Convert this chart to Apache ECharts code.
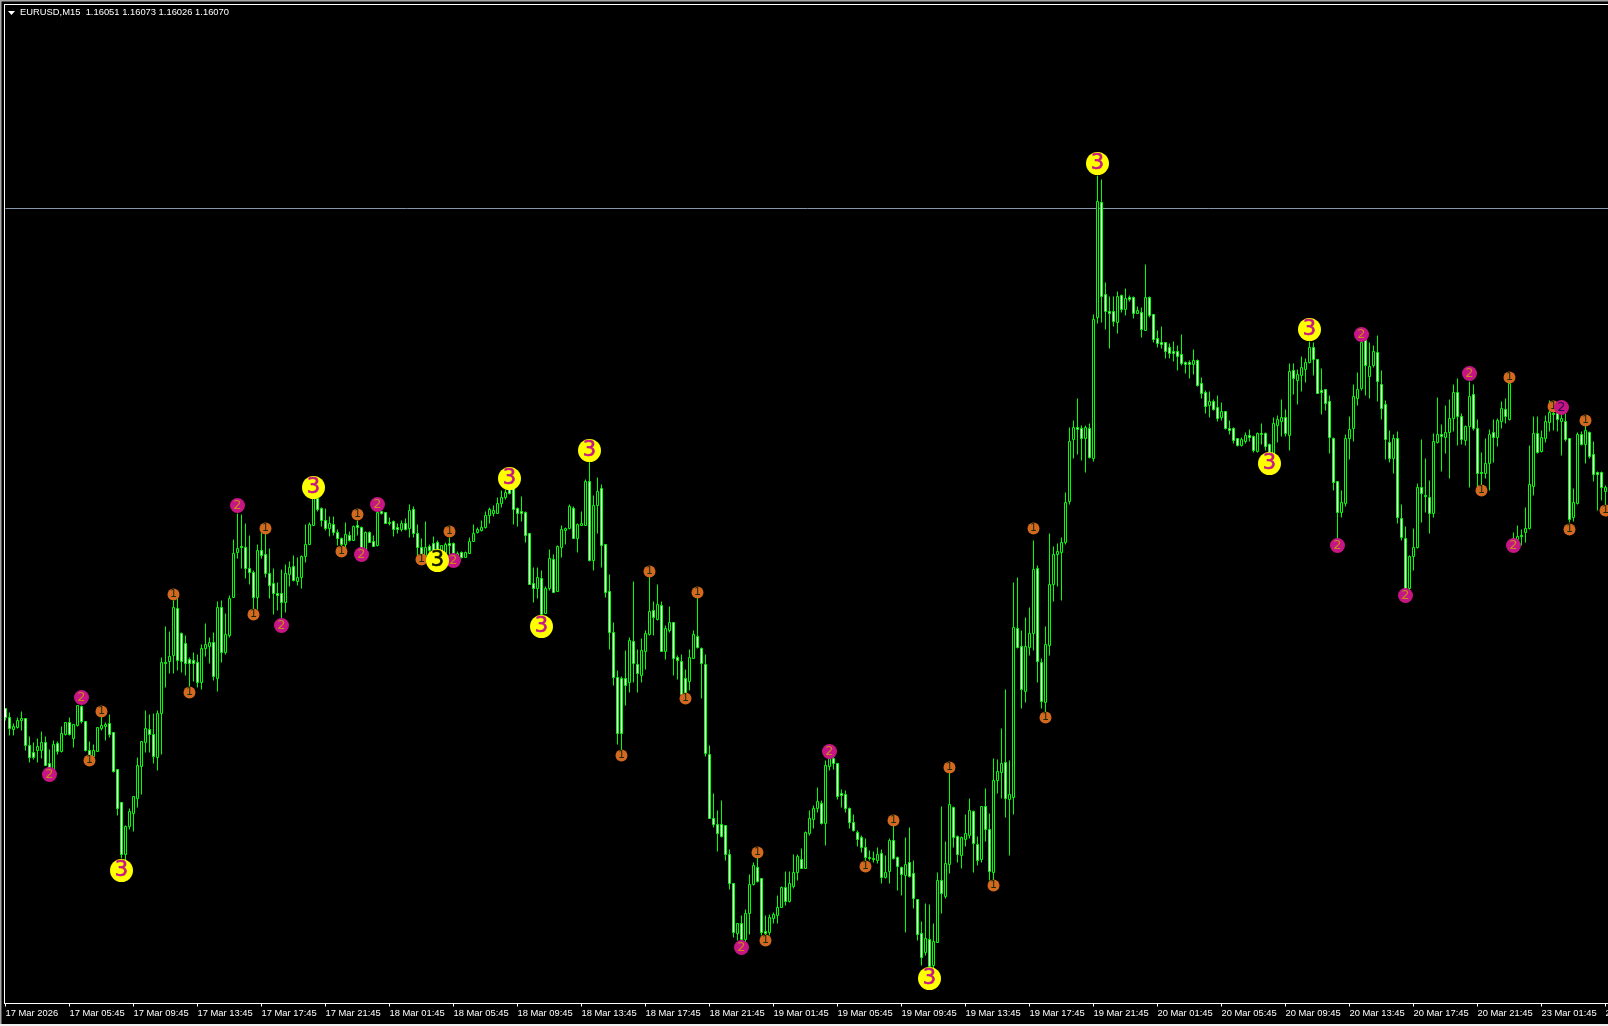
<!DOCTYPE html>
<html>
<head>
<meta charset="utf-8">
<style>html,body{margin:0;padding:0;background:#000;}#c{width:1608px;height:1026px;}</style>
<script src="https://cdn.jsdelivr.net/npm/echarts@6/dist/echarts.min.js"></script>
</head>
<body>
<div id="c"></div>
<script>
// All prices are in points above 1.15000 (1.16070 => 1070). Rows: [open, close, low, high]
const bars17Mar = [
[570,561,558,570],[561,550,543,566],[549,552,543,555],[551,558,550,561],[558,560,548,567],[560,533,528,560],[533,521,516,542],[526,521,519,536],
[528,532,516,540],[528,536,520,547],[536,513,513,542],[515,511,503,529],[506,534,506,538],[535,527,524,537],[527,545,526,552],[544,556,543,556],
[556,544,543,561],[540,554,531,554],[553,573,552,573],[572,557,555,573],[557,528,527,557],[528,523,520,537],[522,528,520,534],[527,551,527,551],
[550,553,548,562],[552,554,538,556],[555,544,541,564],[546,507,506,546],[509,470,463,509],[476,424,420,476],[424,452,418,453],[452,467,449,470],
[465,482,447,482],[480,513,471,521],[512,537,484,537],[536,550,526,568],[549,544,526,564],[544,522,515,565],[521,565,508,568],[565,616,524,621],
[616,615,591,652],[617,622,605,647],[623,671,605,678],[670,618,608,680],[645,617,606,646],[635,615,603,643],[619,615,592,621],[618,615,597,626],
[616,596,591,624],[596,630,589,634],[630,634,622,655],[632,636,615,641],[636,602,598,646],[600,671,587,677],[671,626,616,678],[626,644,624,665],
[643,680,641,683],[681,725,681,739],[726,730,720,765],[732,731,710,764],[731,710,700,755],[710,706,694,743],[706,681,668,708],[681,728,669,734],
[728,723,720,746],[724,705,701,746],[705,693,680,730],[695,685,664,710],[685,683,668,696],[685,676,660,709],[676,705,666,714],[704,711,692,717],
[712,698,697,723],[697,701,693,721],[701,722,690,723],[722,734,716,754],[734,754,734,756],[753,780,753,788],[780,769,767,783],[770,758,752,771],
[758,750,748,770],[750,755,742,762],[754,746,743,762],[746,740,733,749],[740,734,730,741],[734,744,731,756],[743,738,737,747],[738,752,738,753],
[753,751,743,758],[751,731,728,752],[729,746,726,747],[746,736,736,747],[737,732,732,743],[733,766,732,768],[767,765,764,768],[766,755,755,766]];
const bars18Mar = [
[756,755,753,761],[757,749,742,758],[751,749,745,755],[749,755,747,758],[755,749,748,760],[750,768,741,774],[769,745,741,772],[745,731,723,754],
[731,723,718,740],[723,731,722,757],[732,728,726,734],[735,728,720,742],[736,728,718,738],[723,733,718,733],[725,734,722,736],[735,733,723,741],
[735,725,718,736],[721,725,720,727],[726,721,720,727],[721,726,721,727],[725,737,725,741],[737,745,737,754],[746,749,745,751],[748,751,747,758],
[751,763,750,767],[763,769,755,771],[765,768,762,773],[765,775,765,781],[775,781,771,788],[781,786,779,789],[789,785,784,790],[790,769,754,791],
[770,765,752,771],[767,765,757,782],[766,743,736,767],[745,694,694,745],[695,690,676,711],[690,701,680,711],[700,664,664,708],[665,690,665,692],
[690,720,688,729],[719,686,686,724],[687,732,687,733],[731,749,721,753],[748,750,734,751],[750,772,749,774],[770,740,740,772],[740,754,726,755],
[753,755,753,767],[753,797,753,799],[797,718,717,818],[718,773,708,783],[773,787,745,801],[790,733,711,794],[734,686,681,734],[687,646,629,704],
[646,601,593,656],[601,545,534,608],[600,545,523,602],[600,593,573,628],[596,638,586,641],[637,615,596,697],[614,605,586,629],[603,628,596,640],
[627,645,609,648],[644,667,643,707],[668,661,643,677],[659,674,658,694],[673,627,627,677],[627,650,619,653],[648,656,646,672],[656,620,603,656],
[621,618,599,623],[617,584,583,624],[600,584,580,609],[597,621,588,629],[620,644,620,648],[642,631,630,681],[630,615,580,631],[614,525,522,624],
[524,460,460,533],[460,454,451,485],[454,445,427,468],[454,442,441,478],[453,424,418,453],[424,395,389,429],[395,346,341,395],[345,355,338,355],
[355,339,333,363],[339,365,336,369],[365,394,344,404],[394,413,393,416],[411,397,396,424],[400,346,343,400],[347,345,341,363],[346,361,343,364]];
const bars19Mar = [
[360,364,355,366],[363,371,355,383],[371,391,371,392],[391,377,373,407],[377,395,376,407],[392,406,390,424],[406,422,398,424],[419,410,410,430],
[410,446,410,447],[445,460,443,468],[459,470,450,473],[470,477,466,491],[475,455,454,478],[455,513,433,518],[512,520,508,523],[520,515,509,523],
[515,482,479,515],[485,483,471,489],[484,470,466,488],[470,456,450,471],[456,448,447,464],[446,439,432,448],[441,431,426,443],[431,421,413,440],
[421,420,418,428],[420,419,416,427],[418,424,415,431],[425,401,395,429],[401,406,400,423],[407,438,395,440],[438,420,419,459],[421,412,388,422],
[411,404,383,412],[403,414,346,441],[416,402,401,451],[405,380,370,418],[379,344,338,379],[345,321,313,357],[326,340,323,375],[339,312,310,374],
[313,337,310,355],[336,398,336,406],[398,385,365,472],[382,415,380,437],[414,474,405,506],[471,441,431,472],[442,424,416,443],[423,441,410,442],
[439,445,432,464],[443,468,440,480],[467,435,406,468],[434,418,413,442],[419,472,416,472],[472,449,437,490],[449,407,398,465],[406,498,398,520],
[498,507,485,519],[506,515,480,550],[516,480,461,589],[479,484,423,518],[481,651,464,696],[650,631,630,701],[632,589,570,648],[587,632,576,661],
[631,645,623,671],[645,709,628,738],[710,617,596,713],[616,577,570,620],[576,634,566,652],[633,694,623,745],[694,724,677,732],[724,727,692,735],
[726,736,678,741],[736,776,734,786],[777,837,774,851],[839,851,820,858],[851,849,824,880],[850,840,818,853],[840,851,806,853],[850,821,820,855],
[820,959,817,964],[961,1077,955,1103],[1076,982,956,1099],[984,967,949,996],[967,965,930,982],[967,957,952,982],[956,982,945,987],[983,969,966,984],
[969,980,963,990],[981,979,977,983],[981,965,960,982],[965,968,965,972],[966,949,941,971],[948,981,948,1014],[981,963,961,982],[964,939,936,964]];
const bars20Mar = [
[940,935,931,948],[936,934,930,952],[936,927,920,936],[931,925,920,935],[927,925,917,937],[927,922,908,933],[924,915,913,944],[916,914,905,917],
[916,914,900,918],[914,918,904,929],[918,893,892,919],[895,885,880,901],[886,872,865,888],[873,877,861,887],[877,869,868,879],[871,860,857,883],
[861,867,858,876],[867,850,849,867],[850,848,844,858],[850,838,835,851],[840,833,832,840],[833,839,832,841],[837,843,835,846],[843,841,837,849],
[842,828,826,843],[827,845,826,846],[845,844,834,855],[845,832,828,846],[834,825,815,835],[825,855,825,861],[853,859,836,863],[857,861,842,879],
[861,845,842,869],[843,907,828,915],[908,900,884,915],[898,904,874,909],[903,911,887,922],[909,916,896,920],[916,931,915,937],[931,919,903,936],
[919,885,885,919],[888,886,864,910],[889,875,868,889],[877,841,825,883],[840,796,788,841],[797,766,740,797],[766,776,761,788],[775,840,772,844],
[840,849,819,862],[850,882,837,894],[880,889,873,906],[890,936,888,936],[938,913,883,938],[902,912,880,936],[913,927,911,933],[926,897,877,943],
[894,870,859,908],[874,839,819,878],[836,820,816,848],[820,840,805,844],[840,761,755,847],[760,741,738,774],[740,690,688,752],[690,722,688,723],
[722,731,708,750],[731,791,730,795],[791,785,756,839],[783,782,766,820],[781,765,745,798],[765,837,761,845],[836,844,835,881],[844,842,807,854],
[841,846,825,873],[846,860,800,879],[860,886,847,894],[886,862,833,900],[862,839,834,865],[838,852,833,853],[852,882,791,897],[884,850,848,894],
[850,805,788,859],[806,805,793,826],[805,815,800,840],[815,844,788,849],[846,841,816,859],[841,858,832,860],[857,870,850,877],[869,862,855,880],
[859,895,858,900],[737,740,733,746],[739,742,738,753],[743,742,733,749],[746,750,736,771],[750,794,749,833],[792,845,783,862],[845,826,825,862]];
const bars23Mar = [
[827,841,826,848],[840,857,836,863],[856,866,847,878],[865,864,848,873],[865,859,847,876],[857,860,823,866],[857,839,837,865],[840,759,756,840],
[761,776,757,790],[775,844,774,846],[844,834,833,847],[834,848,815,858],[846,822,820,847],[824,804,797,837],[806,804,768,807],[806,791,778,807],
[787,791,763,793]];

const tickLabels = ['17 Mar 2026','17 Mar 05:45','17 Mar 09:45','17 Mar 13:45','17 Mar 17:45','17 Mar 21:45',
'18 Mar 01:45','18 Mar 05:45','18 Mar 09:45','18 Mar 13:45','18 Mar 17:45','18 Mar 21:45',
'19 Mar 01:45','19 Mar 05:45','19 Mar 09:45','19 Mar 13:45','19 Mar 17:45','19 Mar 21:45',
'20 Mar 01:45','20 Mar 05:45','20 Mar 09:45','20 Mar 13:45','20 Mar 17:45','20 Mar 21:45',
'23 Mar 01:45','23 Mar 05:45'];

const title = 'EURUSD,M15  1.16051 1.16073 1.16026 1.16070';
const bidLevel = 1070; // 1.16070

// Swing labels: [bar index, price]
const swing1 = [[21,518],[24,567],[42,684],[46,586],[62,664],[65,750],[84,727],[88,764],[104,719],[111,747],[154,523],[161,707],[170,580],[173,686],
[188,426],[190,338],[215,412],[222,458],[236,511],[247,393],[257,750],[260,561],[369,788],[376,901],[387,872],[391,749],[395,858],[400,768]];
const swing2 = [[11,504],[19,581],[58,773],[69,653],[89,724],[93,774],[112,718],[184,331],[206,527],[333,733],[339,944],[350,683],[366,905],[377,733],[389,871]];
const swing3 = [[29,408],[77,791],[108,718],[126,800],[134,652],[146,828],[231,300],[273,1115],[316,815],[326,949]];

const allBars = [].concat(bars17Mar, bars18Mar, bars19Mar, bars20Mar, bars23Mar);
const BARS_PER_TICK = 16;
const categories = allBars.map((_, i) => i % BARS_PER_TICK === 0 ? tickLabels[i / BARS_PER_TICK] : '');
categories.push('');

function swingSeries(name, points, size, fill, text, fontSize, z, dark, darkBar) {
  return {
    name, type: 'scatter', symbol: 'circle', symbolSize: size, z, silent: true, clip: false,
    itemStyle: { color: fill, opacity: 1 },
    label: { show: true, position: 'inside', formatter: name, color: text, fontFamily: 'DejaVu Sans', fontSize,
      textBorderColor: text, textBorderWidth: fontSize > 15 ? 0.6 : 0 },
    data: points.map(p => p[0] === darkBar
      ? { value: p, label: { color: dark, textBorderColor: dark } }
      : { value: p })
  };
}

const chart = echarts.init(document.getElementById('c'), null, { renderer: 'canvas', devicePixelRatio: 1 });
chart.setOption({
  animation: false,
  backgroundColor: '#000',
  title: {
    text: title, left: 15, top: 0.5,
    textStyle: { color: '#fff', fontFamily: 'Liberation Sans', fontSize: 9.4, fontWeight: 'normal', lineHeight: 13 }
  },
  tooltip: { show: false },
  grid: { left: 5.5, top: 5.5, width: 1604, height: 998, containLabel: false, outerBoundsMode: 'none' },
  xAxis: {
    type: 'category', data: categories, boundaryGap: false,
    axisLine: { show: true, onZero: false, lineStyle: { color: '#fff', width: 1 } },
    axisTick: { show: true, interval: BARS_PER_TICK - 1, length: 3, lineStyle: { color: '#fff' } },
    axisLabel: { show: true, interval: BARS_PER_TICK - 1, align: 'left', margin: 5, color: '#fff',
      fontFamily: 'Liberation Sans', fontSize: 9.4, showMinLabel: true, showMaxLabel: true, hideOverlap: false },
    splitLine: { show: false }
  },
  yAxis: { type: 'value', min: 275, max: 1273, show: false, splitLine: { show: false } },
  graphic: [
    { type: 'rect', silent: true, z: 100, shape: { x: 0, y: 0, width: 1608, height: 1.5 }, style: { fill: '#a8a8a8' } },
    { type: 'rect', silent: true, z: 100, shape: { x: 0, y: 0, width: 1.5, height: 1026 }, style: { fill: '#a8a8a8' } },
    { type: 'rect', silent: true, z: 100, shape: { x: 0, y: 1024, width: 1608, height: 2 }, style: { fill: '#f0f0f0' } },
    { type: 'rect', silent: true, z: 100, shape: { x: 4, y: 4, width: 1604, height: 1 }, style: { fill: '#fff' } },
    { type: 'rect', silent: true, z: 100, shape: { x: 4, y: 4, width: 1, height: 1000 }, style: { fill: '#fff' } },
    { type: 'polygon', silent: true, z: 100, shape: { points: [[8, 11], [15, 11], [11.5, 15]] }, style: { fill: '#fff' } }
  ],
  series: [
    {
      type: 'candlestick', name: 'EURUSD,M15', data: allBars, barWidth: 2, clip: false, silent: true, z: 2,
      large: false, progressive: 0,
      itemStyle: { color: '#000', color0: '#fff', borderColor: '#00ff00', borderColor0: '#00ff00', borderWidth: 1 },
      markLine: {
        silent: true, symbol: 'none', animation: false, label: { show: false }, z: 1,
        lineStyle: { color: '#8596a8', width: 1, type: 'solid' },
        data: [{ yAxis: bidLevel }]
      }
    },
    swingSeries('1', swing1, 12, '#d2691e', '#1c2a00', 11, 3),
    swingSeries('2', swing2, 15, '#c71585', '#c88a1c', 13, 4, '#2a0a4a', 389),
    swingSeries('3', swing3, 23, '#ffff00', '#c71585', 21, 5, '#111100', 108)
  ]
});
</script>
</body>
</html>
